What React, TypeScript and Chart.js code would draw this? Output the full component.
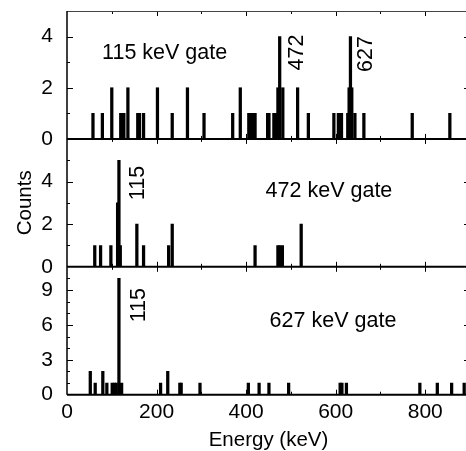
import React, { useEffect, useRef } from 'react';
import { Chart, registerables } from 'chart.js';

Chart.register(...registerables);

// ---- Data (energy in keV, counts) ----
const gate115Energy = [58, 79, 100, 120, 124, 127, 136, 158, 162, 171, 202, 235, 269, 306, 370, 387, 406, 410, 416, 420, 448, 451, 462, 467, 471, 475, 482, 515, 539, 596, 606, 610, 613, 627, 630, 633, 636, 643, 663, 771, 855];
const gate115Counts = [1, 1, 2, 1, 1, 1, 2, 1, 1, 1, 2, 1, 2, 1, 1, 2, 1, 1, 1, 1, 1, 1, 1, 1, 2, 4, 2, 2, 1, 1, 1, 1, 1, 1, 2, 4, 2, 1, 1, 1, 1];

const gate472Energy = [62, 75, 98, 113, 116, 119, 156, 171, 227, 235, 420, 471, 475, 481, 523];
const gate472Counts = [1, 1, 1, 3, 5, 1, 2, 1, 1, 2, 1, 1, 1, 1, 2];

const gate627Energy = [52, 63, 80, 89, 101, 106, 110, 116, 122, 209, 225, 252, 255, 297, 405, 429, 451, 495, 610, 614, 624, 788, 827, 859, 887];
const gate627Counts = [2, 1, 2, 1, 1, 1, 1, 10, 1, 1, 2, 1, 1, 1, 1, 1, 1, 1, 1, 1, 1, 1, 1, 1, 1];

// axis ranges / tick steps
const xMax = 900;
const xMinorStep = 100;
const xMajorStep = 200;
const panelAxes = ['yA', 'yB', 'yC'];
const panelMax = [5, 6, 11];
const panelMajor = [2, 2, 3];

// text annotations
const annoText = ['115 keV gate', '472', '627', '115', '472 keV gate', '115', '627 keV gate'];
const annoEnergy = [218, 510, 665, 155, 585, 157, 594];
const annoCounts = [3.42, 3.38, 3.32, 3.93, 3.65, 7.7, 6.5];
const annoAxis = ['yA', 'yA', 'yA', 'yB', 'yB', 'yC', 'yC'];
const annoRotated = [false, true, true, true, false, true, false];

const FONT = '"Liberation Sans", Arial, Helvetica, sans-serif';
const ANNO_SIZE = 21.5;
const TICK_SIZE = 21;
const TITLE_SIZE = 20.5;

const toPoints = (xs: number[], ys: number[]) => xs.map((x, i) => ({ x, y: ys[i] }));

const framePlugin = {
  id: 'frame',
  afterDatasetsDraw(chart: any) {
    const ctx = chart.ctx;
    const { left, right, top } = chart.chartArea;
    const xs = chart.scales.x;
    ctx.save();
    ctx.strokeStyle = '#000';
    ctx.lineCap = 'butt';

    panelAxes.forEach((id, p) => {
      const ys = chart.scales[id];
      const y0 = ys.getPixelForValue(0);
      const yTop = ys.getPixelForValue(panelMax[p]);
      ctx.lineWidth = 1;
      for (let v = 1; v < panelMax[p]; v++) {
        const py = Math.round(ys.getPixelForValue(v)) + 0.5;
        const len = v % panelMajor[p] === 0 ? 6 : 3;
        ctx.beginPath();
        ctx.moveTo(left, py);
        ctx.lineTo(left + len, py);
        ctx.moveTo(right, py);
        ctx.lineTo(right - len, py);
        ctx.stroke();
      }
      for (let v = xMinorStep; v < xMax; v += xMinorStep) {
        const px = Math.round(xs.getPixelForValue(v)) + 0.5;
        const len = v % xMajorStep === 0 ? 5 : 3;
        ctx.beginPath();
        ctx.moveTo(px, y0);
        ctx.lineTo(px, y0 - len);
        ctx.moveTo(px, yTop);
        ctx.lineTo(px, yTop + len);
        ctx.stroke();
      }
      ctx.lineWidth = 2;
      ctx.beginPath();
      ctx.moveTo(left, y0);
      ctx.lineTo(right, y0);
      ctx.stroke();
    });

    ctx.lineWidth = 1;
    ctx.strokeStyle = '#444';
    ctx.beginPath();
    ctx.moveTo(left, top + 0.5);
    ctx.lineTo(right, top + 0.5);
    ctx.stroke();
    ctx.strokeStyle = '#000';
    ctx.lineWidth = 1.5;
    ctx.beginPath();
    ctx.moveTo(left, top);
    ctx.lineTo(left, chart.chartArea.bottom);
    ctx.moveTo(right, top);
    ctx.lineTo(right, chart.chartArea.bottom);
    ctx.stroke();

    ctx.fillStyle = '#000';
    ctx.font = `${ANNO_SIZE}px ${FONT}`;
    ctx.textAlign = 'center';
    ctx.textBaseline = 'alphabetic';
    const capHalf = (ANNO_SIZE * 0.716) / 2;
    annoText.forEach((t, i) => {
      const px = xs.getPixelForValue(annoEnergy[i]);
      const py = chart.scales[annoAxis[i]].getPixelForValue(annoCounts[i]);
      if (annoRotated[i]) {
        ctx.save();
        ctx.translate(px, py);
        ctx.rotate(-Math.PI / 2);
        ctx.fillText(t, 0, capHalf);
        ctx.restore();
      } else {
        ctx.fillText(t, px, py + capHalf);
      }
    });
    ctx.restore();
  },
};

const yAxis = (p: number, withTitle: boolean) => ({
  type: 'linear',
  position: 'left',
  stack: 'panels',
  stackWeight: 1,
  offset: false,
  min: 0,
  max: panelMax[p],
  grid: { display: false, drawTicks: false },
  border: { display: false },
  afterFit: (scale: any) => {
    scale.width = 67;
    scale.paddingTop = 0;
    scale.paddingBottom = 0;
  },
  ticks: {
    stepSize: 1,
    autoSkip: false,
    padding: 14,
    color: '#000',
    font: { family: FONT, size: TICK_SIZE },
    callback: (v: number) => (v % panelMajor[p] === 0 && v < panelMax[p] ? String(v) : ''),
  },
  title: {
    display: withTitle,
    text: 'Counts',
    color: '#000',
    font: { family: FONT, size: TITLE_SIZE },
    padding: { top: 13, bottom: 0 },
  },
});

export default function App() {
  const canvasRef = useRef<HTMLCanvasElement | null>(null);

  useEffect(() => {
    if (!canvasRef.current) return;
    const barStyle = {
      backgroundColor: '#000',
      borderWidth: 0,
      barThickness: 2.6,
      grouped: false,
    };
    const chart = new Chart(canvasRef.current, {
      type: 'bar',
      data: {
        datasets: [
          { label: '115 keV gate', data: toPoints(gate115Energy, gate115Counts), yAxisID: 'yA', ...barStyle },
          { label: '472 keV gate', data: toPoints(gate472Energy, gate472Counts), yAxisID: 'yB', ...barStyle },
          { label: '627 keV gate', data: toPoints(gate627Energy, gate627Counts), yAxisID: 'yC', ...barStyle },
        ],
      } as any,
      options: {
        animation: false,
        responsive: true,
        maintainAspectRatio: false,
        layout: { padding: { left: 0, right: 10, top: 11, bottom: 0 } },
        plugins: { legend: { display: false }, tooltip: { enabled: false } },
        scales: {
          // stacked axes are laid out bottom-up in definition order
          yC: yAxis(2, false),
          yB: yAxis(1, true),
          yA: yAxis(0, false),
          x: {
            type: 'linear',
            position: 'bottom',
            offset: false,
            min: 0,
            max: xMax,
            grid: { display: false, drawTicks: false },
            border: { display: false },
            afterFit: (scale: any) => {
              scale.height = 65.3;
              scale.paddingLeft = 0;
              scale.paddingRight = 0;
            },
            ticks: {
              stepSize: xMinorStep,
              autoSkip: false,
              maxRotation: 0,
              padding: 5,
              color: '#000',
              font: { family: FONT, size: TICK_SIZE },
              callback: (v: number) => (v % xMajorStep === 0 ? String(v) : ''),
            },
            title: {
              display: true,
              text: 'Energy (keV)',
              color: '#000',
              font: { family: FONT, size: TITLE_SIZE },
              padding: { top: 0, bottom: 7 },
            },
          },
        } as any,
      },
      plugins: [framePlugin],
    });
    return () => chart.destroy();
  }, []);

  return (
    <div style={{ position: 'fixed', left: 0, top: 0, width: 466, height: 451, overflow: 'hidden', background: '#fff' }}>
      <div style={{ position: 'relative', width: 480, height: 460 }}>
        <canvas ref={canvasRef} />
      </div>
    </div>
  );
}
